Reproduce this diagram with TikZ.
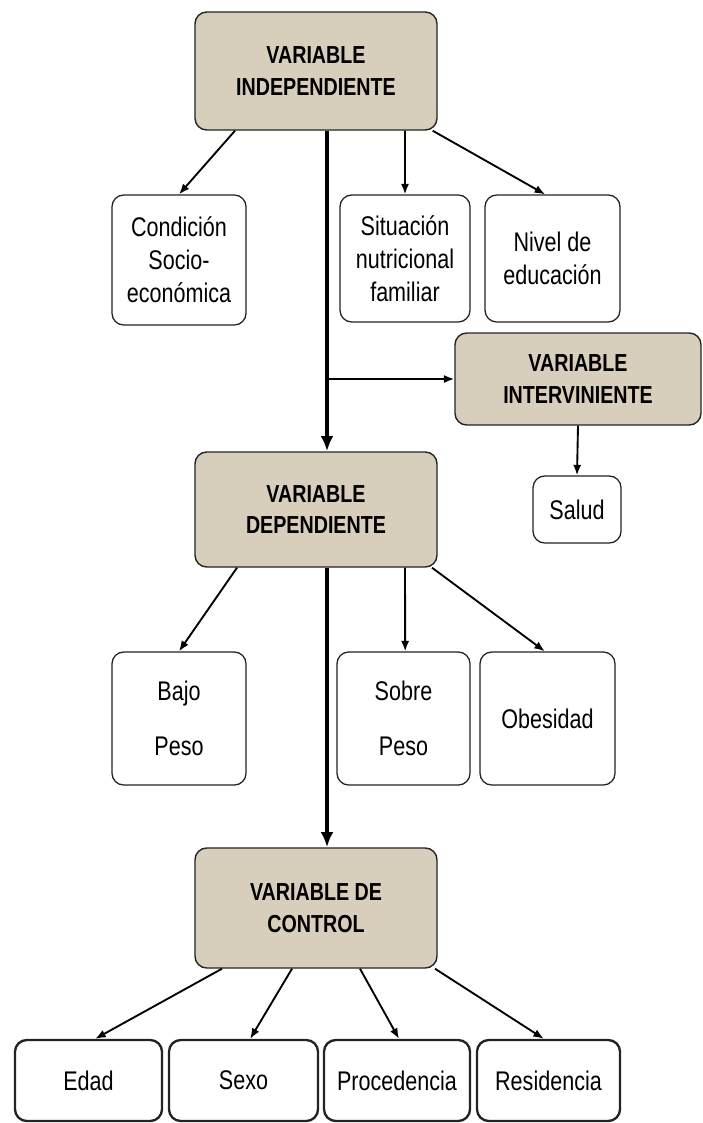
\documentclass[tikz,border=0pt]{standalone}
\usepackage{fontspec}
\setmainfont{Liberation Sans}[FakeStretch=0.8]
\usetikzlibrary{arrows.meta, positioning}
\definecolor{varbeige}{RGB}{216, 206, 188}
\definecolor{boxline}{RGB}{35, 35, 35}

\tikzset{
  varbox/.style={draw=boxline, line width=1.2pt, rounded corners=10pt, fill=varbeige,
    align=center, font=\fontsize{21}{27}\selectfont\bfseries},
  itembox/.style={draw=boxline, line width=1.1pt, rounded corners=10pt, fill=white,
    align=center, font=\fontsize{23}{28}\selectfont},
  ctrlbox/.style={itembox, line width=2pt},
  link/.style={-{Latex[length=9pt, width=7pt]}, line width=1.6pt},
  mainlink/.style={-{Latex[length=13pt, width=11pt]}, line width=3pt}
}

\begin{document}
\begin{tikzpicture}[x=0.03cm, y=-0.03cm]
    \useasboundingbox (0,0) rectangle (703,1123);

    % variables
    \node[varbox, minimum width=7.26cm, minimum height=3.54cm] (indep) at (316,71) {VARIABLE\\INDEPENDIENTE};
    \node[varbox, minimum width=7.38cm, minimum height=2.76cm] (interv) at (578,379) {VARIABLE\\INTERVINIENTE};
    \node[varbox, minimum width=7.26cm, minimum height=3.45cm] (dep) at (316,509.5) {VARIABLE\\DEPENDIENTE};
    \node[varbox, minimum width=7.26cm, minimum height=3.6cm] (ctrl) at (316,908) {VARIABLE DE\\CONTROL};

    % indicadores
    \node[itembox, minimum width=4.02cm, minimum height=3.9cm] (cond) at (179,260) {Condición\\Socio-\\económica};
    \node[itembox, minimum width=3.9cm, minimum height=3.81cm] (situ) at (405,258.5) {Situación\\nutricional\\familiar};
    \node[itembox, minimum width=4.05cm, minimum height=3.81cm] (nivel) at (552.5,258.5) {Nivel de\\educación};
    \node[itembox, minimum width=2.64cm, minimum height=2.01cm] (salud) at (577,509.5) {Salud};
    \node[itembox, minimum width=4.02cm, minimum height=3.99cm] (bajo) at (179,718.5) {Bajo\\[19pt]Peso};
    \node[itembox, minimum width=3.99cm, minimum height=3.99cm] (sobre) at (403.5,718.5) {Sobre\\[19pt]Peso};
    \node[itembox, minimum width=4.05cm, minimum height=3.99cm] (obes) at (547.5,718.5) {Obesidad};
    \node[ctrlbox, minimum width=4.41cm, minimum height=2.43cm] (edad) at (88.5,1080.5) {Edad};
    \node[ctrlbox, minimum width=4.47cm, minimum height=2.43cm] (sexo) at (243.5,1080.5) {Sexo};
    \node[ctrlbox, minimum width=4.38cm, minimum height=2.43cm] (proc) at (397,1080.5) {Procedencia};
    \node[ctrlbox, minimum width=4.29cm, minimum height=2.43cm] (resid) at (548.5,1080.5) {Residencia};

    % flechas principales
    \draw[mainlink] ([xshift=0.33cm]indep.south) -- ([xshift=0.33cm]dep.north);
    \draw[mainlink] ([xshift=0.33cm]dep.south) -- ([xshift=0.33cm]ctrl.north);
    \coordinate (branch) at (327,379);
    \draw[link] (branch) -- (interv.west);
    \draw[link] (interv.south) -- (salud.north);

    \draw[link] ([xshift=-2.43cm]indep.south) -- (cond.north);
    \draw[link] ([xshift=2.67cm]indep.south) -- (situ.north);
    \draw[link] ([xshift=3.5cm]indep.south) -- ([xshift=-0.22cm]nivel.north);

    \draw[link] ([xshift=-2.37cm]dep.south) -- (bajo.north);
    \draw[link] ([xshift=2.67cm]dep.south) -- ([xshift=0.05cm]sobre.north);
    \draw[link] ([xshift=3.48cm]dep.south) -- ([xshift=-0.08cm]obes.north);

    \draw[link] ([xshift=-2.82cm]ctrl.south) -- ([xshift=0.2cm]edad.north);
    \draw[link] ([xshift=-0.72cm]ctrl.south) -- ([xshift=0.2cm]sexo.north);
    \draw[link] ([xshift=1.32cm]ctrl.south) -- ([xshift=0.06cm]proc.north);
    \draw[link] ([xshift=3.57cm]ctrl.south) -- ([xshift=-0.14cm]resid.north);
\end{tikzpicture}
\end{document}
